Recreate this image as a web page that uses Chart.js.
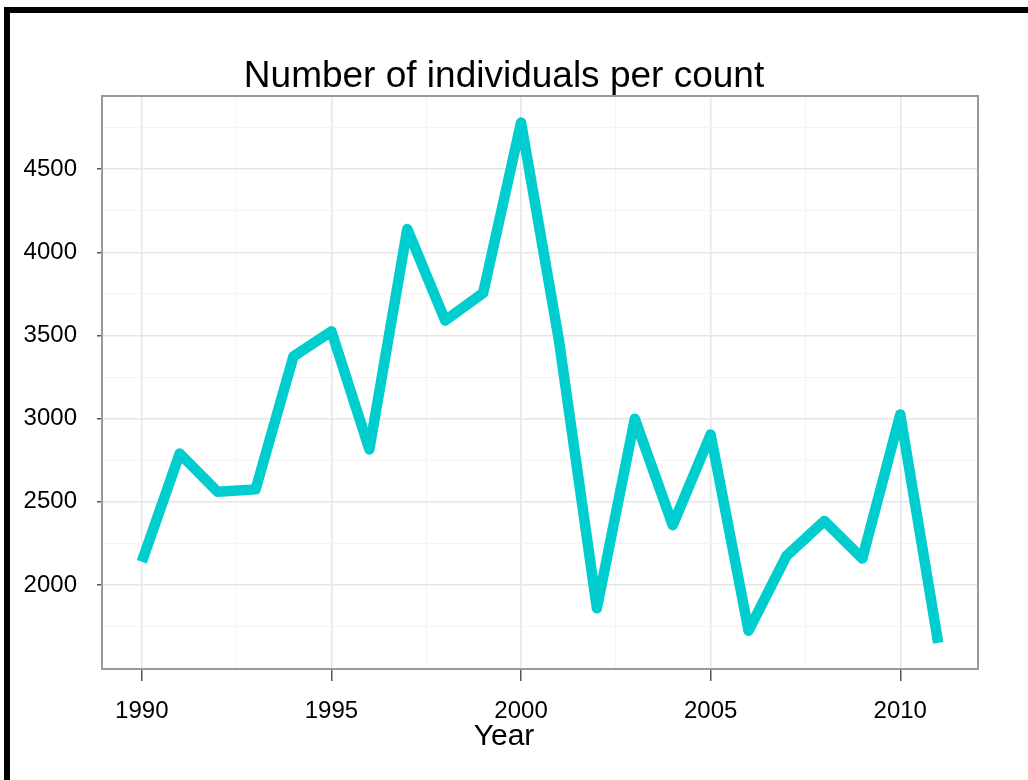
<!DOCTYPE html>
<html>
<head>
<meta charset="utf-8">
<script src="https://cdn.jsdelivr.net/npm/chart.js@4/dist/chart.umd.min.js"></script>
<style>
  html, body { margin: 0; padding: 0; background: #fff; }
  #wrap { width: 1028px; height: 780px; }
</style>
</head>
<body>
<div id="wrap"><canvas id="chartCount" width="1028" height="780"></canvas></div>
<script>
// data
const years = [1990, 1991, 1992, 1993, 1994, 1995, 1996, 1997, 1998, 1999, 2000,
               2001, 2002, 2003, 2004, 2005, 2006, 2007, 2008, 2009, 2010, 2011];
const counts = [2140, 2790, 2560, 2575, 3375, 3525, 2815, 4140, 3590, 3755, 4780,
                3470, 1860, 3000, 2360, 2905, 1725, 2175, 2385, 2160, 3025, 1652];
const xTicks = [1990, 1995, 2000, 2005, 2010];
const yTicks = [2000, 2500, 3000, 3500, 4000, 4500];
const chartTitle = "Number of individuals per count";
const xTitle = "Year";

const xMinor = xTicks.map(v => v + 2.5).concat([xTicks[0] - 2.5]);
const yMinor = yTicks.map(v => v + 250).concat([yTicks[0] - 250]);

const fontFam = "'Liberation Sans', Arial, sans-serif";

// black frame, grey panel border, titles (centred on the figure, not the panel)
const framePlugin = {
  id: "frame",
  beforeDraw(chart) {
    const c = chart.ctx;
    c.save();
    c.fillStyle = "#fff";
    c.fillRect(0, 0, chart.width, chart.height);
    c.fillStyle = "#000";
    c.fillRect(4, 7, chart.width - 4, 6);
    c.fillRect(4, 7, 6, chart.height - 7);
    c.restore();
  },
  afterDraw(chart) {
    const a = chart.chartArea;
    const c = chart.ctx;
    c.save();
    c.strokeStyle = "#999999";
    c.lineWidth = 2;
    c.strokeRect(a.left, a.top, a.right - a.left, a.bottom - a.top);
    c.fillStyle = "#000";
    c.textAlign = "center";
    c.textBaseline = "alphabetic";
    c.font = "37px " + fontFam;
    c.fillText(chartTitle, 504, 87);
    c.font = "30px " + fontFam;
    c.fillText(xTitle, 504, 745);
    c.restore();
  }
};

const isMajor = (list, v) => list.indexOf(v) !== -1;

new Chart(document.getElementById("chartCount").getContext("2d"), {
  type: "line",
  data: {
    datasets: [{
      data: years.map((y, i) => ({ x: y, y: counts[i] })),
      borderColor: "#00CDCD",
      borderWidth: 10.5,
      borderJoinStyle: "round",
      borderCapStyle: "butt",
      pointRadius: 0,
      tension: 0,
      fill: false
    }]
  },
  plugins: [framePlugin],
  options: {
    responsive: false,
    animation: false,
    layout: { padding: { left: 0, right: 50, top: 96, bottom: 0 } },
    plugins: {
      legend: { display: false },
      tooltip: { enabled: false },
      title: { display: false }
    },
    scales: {
      x: {
        type: "linear",
        min: 1988.95,
        max: 2012.05,
        afterBuildTicks(s) {
          s.ticks = xTicks.concat(xMinor).filter(v => v > s.min && v < s.max)
            .sort((a, b) => a - b).map(v => ({ value: v }));
        },
        afterFit(s) { s.height = 111; },
        ticks: {
          autoSkip: false,
          maxRotation: 0,
          padding: 16,
          color: "#000",
          font: { family: fontFam, size: 24 },
          callback: v => isMajor(xTicks, v) ? String(v) : ""
        },
        grid: {
          color: ctx => isMajor(xTicks, ctx.tick && ctx.tick.value) ? "#e6e6e6" : "#f4f4f4",
          lineWidth: ctx => isMajor(xTicks, ctx.tick && ctx.tick.value) ? 1.5 : 1,
          tickLength: 12,
          tickColor: ctx => isMajor(xTicks, ctx.tick && ctx.tick.value) ? "#555" : "rgba(0,0,0,0)",
          tickWidth: 1.5
        },
        border: { display: false }
      },
      y: {
        type: "linear",
        min: 1495,
        max: 4940,
        afterBuildTicks(s) {
          s.ticks = yTicks.concat(yMinor).filter(v => v > s.min && v < s.max)
            .sort((a, b) => a - b).map(v => ({ value: v }));
        },
        afterFit(s) { s.width = 102; },
        ticks: {
          autoSkip: false,
          padding: 20,
          color: "#000",
          font: { family: fontFam, size: 24 },
          callback: v => isMajor(yTicks, v) ? String(v) : ""
        },
        grid: {
          color: ctx => isMajor(yTicks, ctx.tick && ctx.tick.value) ? "#e6e6e6" : "#f4f4f4",
          lineWidth: ctx => isMajor(yTicks, ctx.tick && ctx.tick.value) ? 1.5 : 1,
          tickLength: 5,
          tickColor: ctx => isMajor(yTicks, ctx.tick && ctx.tick.value) ? "#555" : "rgba(0,0,0,0)",
          tickWidth: 1.5
        },
        border: { display: false }
      }
    }
  }
});
</script>
</body>
</html>
